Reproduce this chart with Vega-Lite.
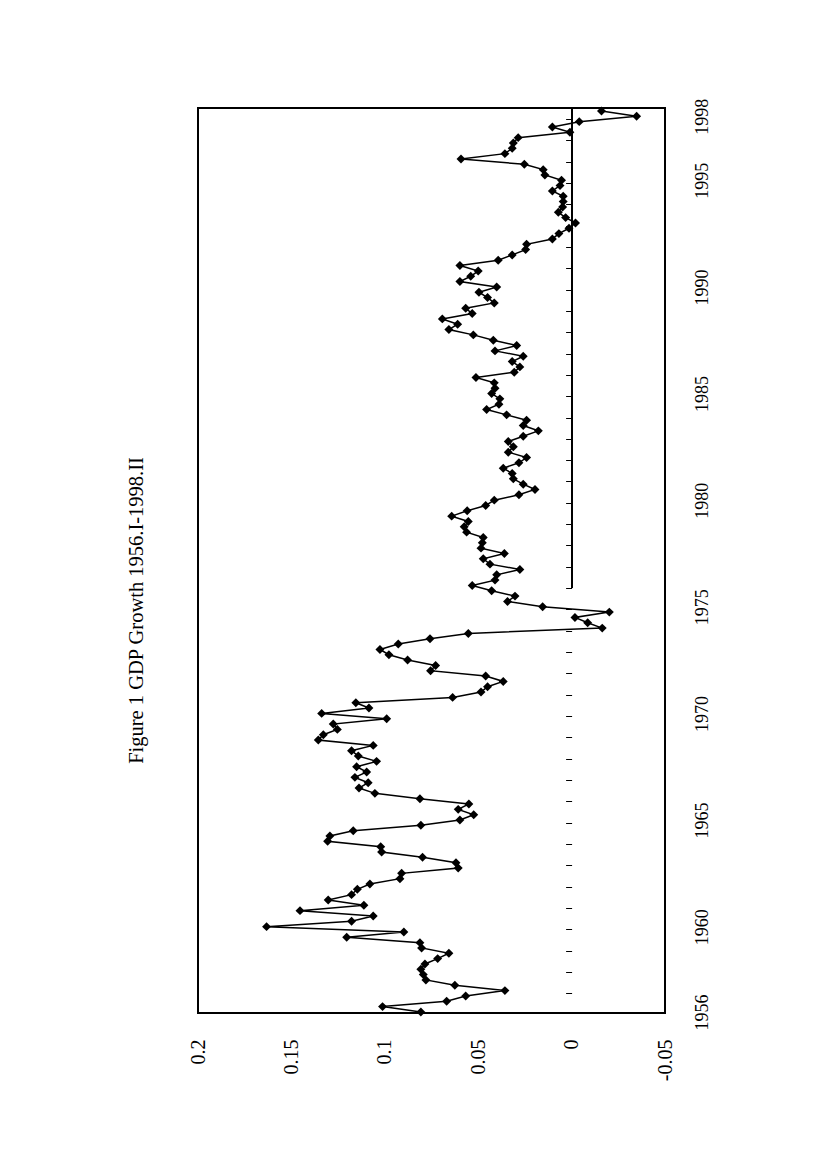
{
  "$schema": "https://vega.github.io/schema/vega-lite/v6.json",
  "autosize": {"type": "none"},
  "width": 467,
  "height": 905,
  "padding": {"left": 198, "top": 108, "right": 161, "bottom": 155},
  "background": "white",
  "config": {
    "font": "Liberation Serif",
    "view": {"stroke": "black", "strokeWidth": 2}
  },
  "title": {
    "text": "Figure 1  GDP Growth 1956.I-1998.II",
    "orient": "left",
    "anchor": "middle",
    "font": "Liberation Serif",
    "fontSize": 20.5,
    "fontWeight": "normal",
    "color": "black",
    "offset": 41,
    "dx": -50
  },
  "data": {
    "values": [
      {"t": 1956.00, "g": 0.0807}, {"t": 1956.25, "g": 0.1012}, {"t": 1956.50, "g": 0.0669}, {"t": 1956.75, "g": 0.0567},
      {"t": 1957.00, "g": 0.0357}, {"t": 1957.25, "g": 0.0625}, {"t": 1957.50, "g": 0.0780}, {"t": 1957.75, "g": 0.0794},
      {"t": 1958.00, "g": 0.0807}, {"t": 1958.25, "g": 0.0785}, {"t": 1958.50, "g": 0.0717}, {"t": 1958.75, "g": 0.0657},
      {"t": 1959.00, "g": 0.0803}, {"t": 1959.25, "g": 0.0812}, {"t": 1959.50, "g": 0.1204}, {"t": 1959.75, "g": 0.0898},
      {"t": 1960.00, "g": 0.1633}, {"t": 1960.25, "g": 0.1178}, {"t": 1960.50, "g": 0.1062}, {"t": 1960.75, "g": 0.1454},
      {"t": 1961.00, "g": 0.1112}, {"t": 1961.25, "g": 0.1303}, {"t": 1961.50, "g": 0.1178}, {"t": 1961.75, "g": 0.1147},
      {"t": 1962.00, "g": 0.1080}, {"t": 1962.25, "g": 0.0919}, {"t": 1962.50, "g": 0.0910}, {"t": 1962.75, "g": 0.0607},
      {"t": 1963.00, "g": 0.0619}, {"t": 1963.25, "g": 0.0798}, {"t": 1963.50, "g": 0.1017}, {"t": 1963.75, "g": 0.1022},
      {"t": 1964.00, "g": 0.1306}, {"t": 1964.25, "g": 0.1294}, {"t": 1964.50, "g": 0.1169}, {"t": 1964.75, "g": 0.0807},
      {"t": 1965.00, "g": 0.0598}, {"t": 1965.25, "g": 0.0524}, {"t": 1965.50, "g": 0.0607}, {"t": 1965.75, "g": 0.0550},
      {"t": 1966.00, "g": 0.0812}, {"t": 1966.25, "g": 0.1053}, {"t": 1966.50, "g": 0.1138}, {"t": 1966.75, "g": 0.1089},
      {"t": 1967.00, "g": 0.1160}, {"t": 1967.25, "g": 0.1097}, {"t": 1967.50, "g": 0.1151}, {"t": 1967.75, "g": 0.1044},
      {"t": 1968.00, "g": 0.1142}, {"t": 1968.25, "g": 0.1178}, {"t": 1968.50, "g": 0.1062}, {"t": 1968.75, "g": 0.1356},
      {"t": 1969.00, "g": 0.1329}, {"t": 1969.25, "g": 0.1254}, {"t": 1969.50, "g": 0.1276}, {"t": 1969.75, "g": 0.0990},
      {"t": 1970.00, "g": 0.1338}, {"t": 1970.25, "g": 0.1085}, {"t": 1970.50, "g": 0.1155}, {"t": 1970.75, "g": 0.0637},
      {"t": 1971.00, "g": 0.0485}, {"t": 1971.25, "g": 0.0450}, {"t": 1971.50, "g": 0.0366}, {"t": 1971.75, "g": 0.0460},
      {"t": 1972.00, "g": 0.0755}, {"t": 1972.25, "g": 0.0728}, {"t": 1972.50, "g": 0.0878}, {"t": 1972.75, "g": 0.0978},
      {"t": 1973.00, "g": 0.1026}, {"t": 1973.25, "g": 0.0928}, {"t": 1973.50, "g": 0.0758}, {"t": 1973.75, "g": 0.0553},
      {"t": 1974.00, "g": -0.0164}, {"t": 1974.25, "g": -0.0086}, {"t": 1974.50, "g": -0.0018}, {"t": 1974.75, "g": -0.0202},
      {"t": 1975.00, "g": 0.0155}, {"t": 1975.25, "g": 0.0343}, {"t": 1975.50, "g": 0.0303}, {"t": 1975.75, "g": 0.0428},
      {"t": 1976.00, "g": 0.0532}, {"t": 1976.25, "g": 0.0410}, {"t": 1976.50, "g": 0.0401}, {"t": 1976.75, "g": 0.0277},
      {"t": 1977.00, "g": 0.0437}, {"t": 1977.25, "g": 0.0473}, {"t": 1977.50, "g": 0.0360}, {"t": 1977.75, "g": 0.0485},
      {"t": 1978.00, "g": 0.0478}, {"t": 1978.25, "g": 0.0473}, {"t": 1978.50, "g": 0.0562}, {"t": 1978.75, "g": 0.0575},
      {"t": 1979.00, "g": 0.0553}, {"t": 1979.25, "g": 0.0642}, {"t": 1979.50, "g": 0.0559}, {"t": 1979.75, "g": 0.0460},
      {"t": 1980.00, "g": 0.0414}, {"t": 1980.25, "g": 0.0282}, {"t": 1980.50, "g": 0.0196}, {"t": 1980.75, "g": 0.0259},
      {"t": 1981.00, "g": 0.0312}, {"t": 1981.25, "g": 0.0318}, {"t": 1981.50, "g": 0.0366}, {"t": 1981.75, "g": 0.0282},
      {"t": 1982.00, "g": 0.0241}, {"t": 1982.25, "g": 0.0339}, {"t": 1982.50, "g": 0.0312}, {"t": 1982.75, "g": 0.0339},
      {"t": 1983.00, "g": 0.0259}, {"t": 1983.25, "g": 0.0178}, {"t": 1983.50, "g": 0.0259}, {"t": 1983.75, "g": 0.0241},
      {"t": 1984.00, "g": 0.0348}, {"t": 1984.25, "g": 0.0455}, {"t": 1984.50, "g": 0.0389}, {"t": 1984.75, "g": 0.0384},
      {"t": 1985.00, "g": 0.0428}, {"t": 1985.25, "g": 0.0410}, {"t": 1985.50, "g": 0.0414}, {"t": 1985.75, "g": 0.0512},
      {"t": 1986.00, "g": 0.0307}, {"t": 1986.25, "g": 0.0277}, {"t": 1986.50, "g": 0.0318}, {"t": 1986.75, "g": 0.0259},
      {"t": 1987.00, "g": 0.0410}, {"t": 1987.25, "g": 0.0294}, {"t": 1987.50, "g": 0.0419}, {"t": 1987.75, "g": 0.0526},
      {"t": 1988.00, "g": 0.0657}, {"t": 1988.25, "g": 0.0610}, {"t": 1988.50, "g": 0.0692}, {"t": 1988.75, "g": 0.0532},
      {"t": 1989.00, "g": 0.0567}, {"t": 1989.25, "g": 0.0414}, {"t": 1989.50, "g": 0.0450}, {"t": 1989.75, "g": 0.0496},
      {"t": 1990.00, "g": 0.0401}, {"t": 1990.25, "g": 0.0598}, {"t": 1990.50, "g": 0.0540}, {"t": 1990.75, "g": 0.0500},
      {"t": 1991.00, "g": 0.0598}, {"t": 1991.25, "g": 0.0393}, {"t": 1991.50, "g": 0.0318}, {"t": 1991.75, "g": 0.0246},
      {"t": 1992.00, "g": 0.0241}, {"t": 1992.25, "g": 0.0103}, {"t": 1992.50, "g": 0.0068}, {"t": 1992.75, "g": 0.0014},
      {"t": 1993.00, "g": -0.0021}, {"t": 1993.25, "g": 0.0032}, {"t": 1993.50, "g": 0.0071}, {"t": 1993.75, "g": 0.0048},
      {"t": 1994.00, "g": 0.0045}, {"t": 1994.25, "g": 0.0045}, {"t": 1994.50, "g": 0.0103}, {"t": 1994.75, "g": 0.0062},
      {"t": 1995.00, "g": 0.0054}, {"t": 1995.25, "g": 0.0143}, {"t": 1995.50, "g": 0.0152}, {"t": 1995.75, "g": 0.0253},
      {"t": 1996.00, "g": 0.0592}, {"t": 1996.25, "g": 0.0357}, {"t": 1996.50, "g": 0.0318}, {"t": 1996.75, "g": 0.0312},
      {"t": 1997.00, "g": 0.0286}, {"t": 1997.25, "g": 0.0009}, {"t": 1997.50, "g": 0.0103}, {"t": 1997.75, "g": -0.0041},
      {"t": 1998.00, "g": -0.0348}, {"t": 1998.25, "g": -0.0160}
    ]
  },
  "resolve": {"axis": {"y": "independent"}},
  "layer": [
    {
      "mark": {
        "type": "line",
        "color": "black",
        "strokeWidth": 1.5,
        "point": {"shape": "diamond", "filled": true, "size": 80, "color": "black"}
      },
      "encoding": {
        "x": {
          "field": "g",
          "type": "quantitative",
          "scale": {"domain": [-0.05, 0.2], "reverse": true, "nice": false, "zero": false},
          "axis": {
            "orient": "bottom",
            "values": [-0.05, 0, 0.05, 0.1, 0.15, 0.2],
            "labelExpr": "datum.value < 0 ? '-0.05' : '' + datum.value",
            "labelAngle": -90,
            "labelAlign": "right",
            "labelBaseline": "middle",
            "labelPadding": 26,
            "labelFont": "Liberation Serif",
            "labelFontSize": 20,
            "labelColor": "black",
            "labelOverlap": false,
            "labelFlush": false,
            "ticks": false,
            "domain": false,
            "grid": false,
            "title": null
          }
        },
        "y": {
          "field": "t",
          "type": "quantitative",
          "scale": {"domain": [1955.95, 1998.39], "nice": false, "zero": false},
          "axis": {
            "orient": "right",
            "values": [1956, 1960, 1965, 1970, 1975, 1980, 1985, 1990, 1995, 1998],
            "format": "d",
            "labelAngle": -90,
            "labelAlign": "center",
            "labelBaseline": "top",
            "labelPadding": 28,
            "labelFont": "Liberation Serif",
            "labelFontSize": 18,
            "labelColor": "black",
            "labelOverlap": false,
            "labelFlush": false,
            "ticks": false,
            "domain": false,
            "grid": false,
            "title": null
          }
        },
        "order": {"field": "t", "type": "quantitative"}
      }
    },
    {
      "mark": {"type": "rule", "color": "black", "strokeWidth": 1},
      "encoding": {
        "x": {
          "datum": 0,
          "type": "quantitative",
          "axis": {
            "orient": "bottom",
            "values": [-0.05, 0, 0.05, 0.1, 0.15, 0.2],
            "labelExpr": "datum.value < 0 ? '-0.05' : '' + datum.value",
            "labelAngle": -90,
            "labelAlign": "right",
            "labelBaseline": "middle",
            "labelPadding": 26,
            "labelFont": "Liberation Serif",
            "labelFontSize": 20,
            "labelColor": "black",
            "labelOverlap": false,
            "labelFlush": false,
            "ticks": false,
            "domain": false,
            "grid": false,
            "title": null
          }
        },
        "y": {
          "datum": 1975.9,
          "type": "quantitative",
          "axis": {
            "orient": "left",
            "offset": -373.6,
            "values": [1956.875, 1957.875, 1958.875, 1959.875, 1960.875, 1961.875, 1962.875, 1963.875, 1964.875, 1965.875, 1966.875, 1967.875, 1968.875, 1969.875, 1970.875, 1971.875, 1972.875, 1973.875, 1974.875, 1975.875, 1976.875, 1977.875, 1978.875, 1979.875, 1980.875, 1981.875, 1982.875, 1983.875, 1984.875, 1985.875, 1986.875, 1987.875, 1988.875, 1989.875, 1990.875, 1991.875, 1992.875, 1993.875, 1994.875, 1995.875, 1996.875, 1997.875],
            "labels": false,
            "domain": false,
            "grid": false,
            "ticks": true,
            "tickSize": 6,
            "tickColor": "black",
            "tickWidth": 1,
            "title": null
          }
        },
        "y2": {"datum": 1998.39}
      }
    }
  ]
}
